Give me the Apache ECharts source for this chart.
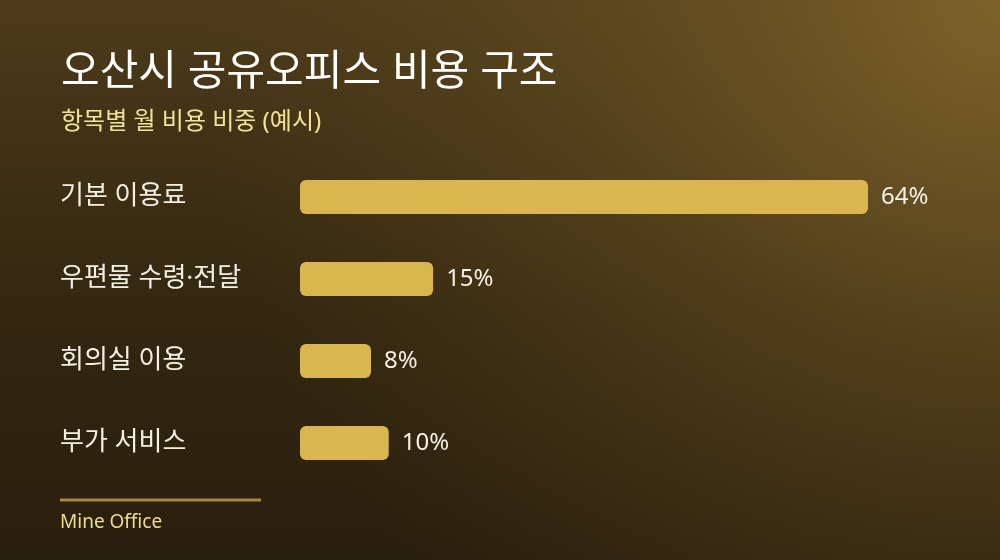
<!DOCTYPE html>
<html>
<head>
<meta charset="utf-8">
<script src="https://cdn.jsdelivr.net/npm/echarts@6/dist/echarts.min.js"></script>
<style>
  html, body { margin: 0; padding: 0; background: #2a200e; }
  #chart { width: 1000px; height: 560px; }
</style>
</head>
<body>
<div id="chart"></div>
<script>
const categories = ['기본 이용료', '우편물 수령·전달', '회의실 이용', '부가 서비스'];
const shares = [64, 15, 8, 10];

const font = '"Noto Sans", "Noto Sans CJK KR", sans-serif';

const chart = echarts.init(document.getElementById('chart'));

chart.setOption({
    backgroundColor: {
        type: 'linear', x: 0, y: 0, x2: 0, y2: 1,
        colorStops: [
            { offset: 0, color: '#4d3b1a' },
            { offset: 0.55, color: '#332710' },
            { offset: 1, color: '#291f0d' }
        ]
    },
    graphic: [
        {
            type: 'rect',
            z: -10,
            silent: true,
            shape: { x: 0, y: 0, width: 1000, height: 560 },
            style: {
                fill: {
                    type: 'radial', x: 1, y: 0, r: 1.45,
                    colorStops: [
                        { offset: 0, color: 'rgba(128,100,42,0.95)' },
                        { offset: 0.5, color: 'rgba(110,85,35,0.45)' },
                        { offset: 1, color: 'rgba(90,70,30,0)' }
                    ]
                }
            }
        },
        {
            type: 'line',
            shape: { x1: 60, y1: 500, x2: 261, y2: 500 },
            style: { stroke: '#a68a3e', lineWidth: 3 }
        },
        {
            type: 'text',
            left: 60,
            top: 513,
            style: {
                text: 'Mine Office',
                fill: '#eedd8c',
                font: '19px ' + font
            }
        }
    ],
    title: {
        text: '오산시 공유오피스 비용 구조',
        subtext: '항목별 월 비용 비중 (예시)',
        left: 56,
        top: 47,
        itemGap: 16,
        textStyle: {
            color: '#ffffff',
            fontSize: 42,
            fontWeight: 'normal',
            fontFamily: font
        },
        subtextStyle: {
            color: '#f2e39a',
            fontSize: 24,
            fontFamily: font
        }
    },
    grid: {
        left: 300,
        right: 61,
        top: 156,
        bottom: 76,
        outerBoundsMode: 'none'
    },
    xAxis: {
        type: 'value',
        min: 0,
        max: 72,
        show: false
    },
    yAxis: {
        type: 'category',
        data: categories,
        inverse: true,
        axisLine: { show: false },
        axisTick: { show: false },
        splitLine: { show: false },
        axisLabel: {
            align: 'left',
            margin: 240,
            color: '#f4efe4',
            fontSize: 26,
            fontFamily: font,
            padding: [0, 0, 6, 0]
        }
    },
    series: [
        {
            type: 'bar',
            data: shares,
            barWidth: 34,
            itemStyle: {
                color: '#dbb54f',
                borderRadius: 6
            },
            label: {
                show: true,
                position: 'right',
                distance: 13,
                formatter: '{c}%',
                color: '#f6f1e7',
                fontSize: 24,
                fontFamily: font
            }
        }
    ]
});
</script>
</body>
</html>
